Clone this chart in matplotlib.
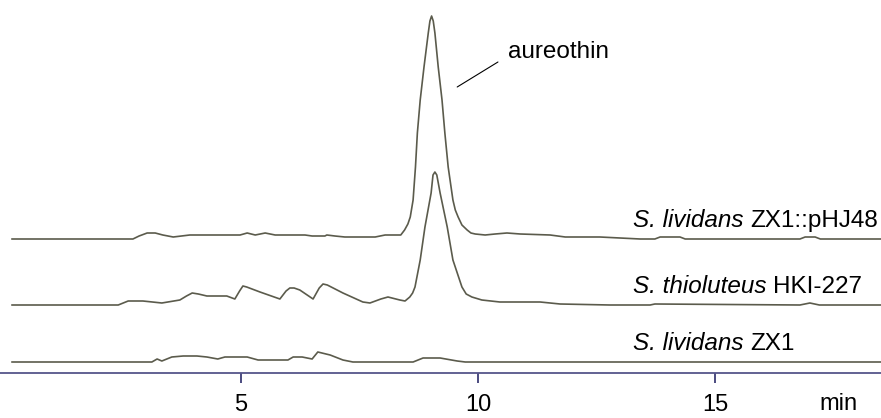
import matplotlib
matplotlib.use("Agg")
import matplotlib.pyplot as plt

plt.rcParams['font.family'] = ['Liberation Sans', 'DejaVu Sans']

# retention time (min) and detector signal above each trace's own baseline
t_pHJ48 = [0.17, 2.72, 2.85, 3.02, 3.19, 3.35, 3.57, 3.92, 4.98, 5.13, 5.30, 5.51,
           5.72, 6.35, 6.50, 6.77, 6.81, 6.98, 7.19, 7.83, 8.04, 8.31, 8.37, 8.45,
           8.52, 8.57, 8.63, 8.68, 8.72, 8.78, 8.86, 8.95, 8.985, 9.02, 9.055, 9.09,
           9.16, 9.24, 9.30, 9.37, 9.47, 9.52, 9.58, 9.66, 9.77, 9.85, 9.94, 10.15,
           10.36, 10.61, 10.89, 11.52, 11.84, 12.57, 13.42, 13.73, 13.84, 14.26,
           14.37, 16.79, 16.90, 17.11, 17.22, 18.50]
y_pHJ48 = [0, 0, 3, 6, 6, 4, 2, 4, 4, 6, 4, 6,
           4, 4, 3, 3, 4, 3, 2, 2, 4, 4, 4, 9,
           15, 22, 39, 72, 106, 139, 172, 206, 218, 223, 218, 206,
           172, 139, 106, 72, 39, 29, 22, 14, 9, 6, 5, 4,
           5, 6, 5, 4, 2, 2, 0, 0, 2, 2,
           0, 0, 2, 2, 0, 0]

t_hki = [0.17, 2.41, 2.62, 2.93, 3.33, 3.71, 3.85, 3.97, 4.10, 4.28, 4.70, 4.87,
         4.97, 5.04, 5.12, 5.40, 5.82, 5.95, 6.03, 6.12, 6.24, 6.52, 6.65, 6.73,
         6.82, 7.15, 7.57, 7.72, 7.95, 8.10, 8.35, 8.46, 8.56, 8.62, 8.67, 8.78,
         8.88, 9.01, 9.05, 9.09, 9.13, 9.20, 9.35, 9.47, 9.66, 9.75, 9.87, 10.08,
         10.46, 11.31, 11.73, 12.78, 13.63, 13.73, 16.79, 17.00, 17.20, 18.50]
y_hki = [0, 0, 4, 4, 2, 5, 9, 12, 11, 9, 9, 6,
         14, 19, 18, 13, 6, 14, 17, 17, 15, 6, 17, 21,
         20, 12, 3, 2, 6, 8, 5, 4, 8, 12, 18, 45,
         78, 112, 130, 133, 130, 112, 78, 45, 18, 11, 8, 5,
         3, 3, 1, 0, 0, 1, 0, 2, 0, 0]

t_zx1 = [0.17, 3.12, 3.23, 3.33, 3.54, 3.78, 4.07, 4.28, 4.51, 4.66, 5.13, 5.36,
         5.99, 6.10, 6.29, 6.50, 6.62, 6.88, 7.15, 7.36, 8.63, 8.84, 9.20, 9.56,
         9.73, 18.50]
y_zx1 = [0, 0, 3, 1, 5, 6, 6, 5, 3, 5, 5, 2,
         2, 5, 5, 3, 10, 7, 2, 0, 0, 4, 4, 1,
         0, 0]

offsets = [134, 68, 11]
strain_italic = ["S. lividans", "S. thioluteus", "S. lividans"]
strain_rest = ["ZX1::pHJ48", "HKI-227", "ZX1"]
xticks = [5, 10, 15]

fig = plt.figure(figsize=(8.81, 4.18), dpi=100)
ax = fig.add_axes([0, 45 / 418, 1, 373 / 418])

line_color = '#5b5b4c'
for t, y, off in zip([t_pHJ48, t_hki, t_zx1], [y_pHJ48, y_hki, y_zx1], offsets):
    ax.plot(t, [v + off for v in y], color=line_color, lw=1.2)

# strain labels: italic species name followed by upright strain name
for off, it, rest in zip(offsets, strain_italic, strain_rest):
    t1 = ax.text(13.27, off + 12, it, style='italic', fontsize=17.5,
                 ha='left', va='baseline')
    ax.annotate(rest, xy=(1, 0), xycoords=t1, xytext=(4.9, 0),
                textcoords='offset points', fontsize=17.5, ha='left', va='bottom')

ax.annotate('', xy=(9.56, 286), xytext=(10.42, 311),
            arrowprops=dict(arrowstyle='-', color='k', lw=0.8,
                            shrinkA=0, shrinkB=0))
ax.text(10.63, 315, 'aureothin', fontsize=17.5, ha='left', va='baseline')

ax.set_xlim(-0.084, 18.50)
ax.set_ylim(0, 373)
for s in ['left', 'right', 'top']:
    ax.spines[s].set_visible(False)
ax.spines['bottom'].set_color('#55558a')
ax.spines['bottom'].set_linewidth(1.3)
ax.set_yticks([])
ax.set_xticks(xticks)
ax.set_xticklabels([str(v) for v in xticks])
ax.tick_params(axis='x', direction='out', length=7, width=1.1,
               color='#1a1a5e', labelsize=17, pad=8)
ax.text(17.6, -31, 'min', fontsize=17, ha='center', va='center')

fig.savefig('out.png', dpi=100)
